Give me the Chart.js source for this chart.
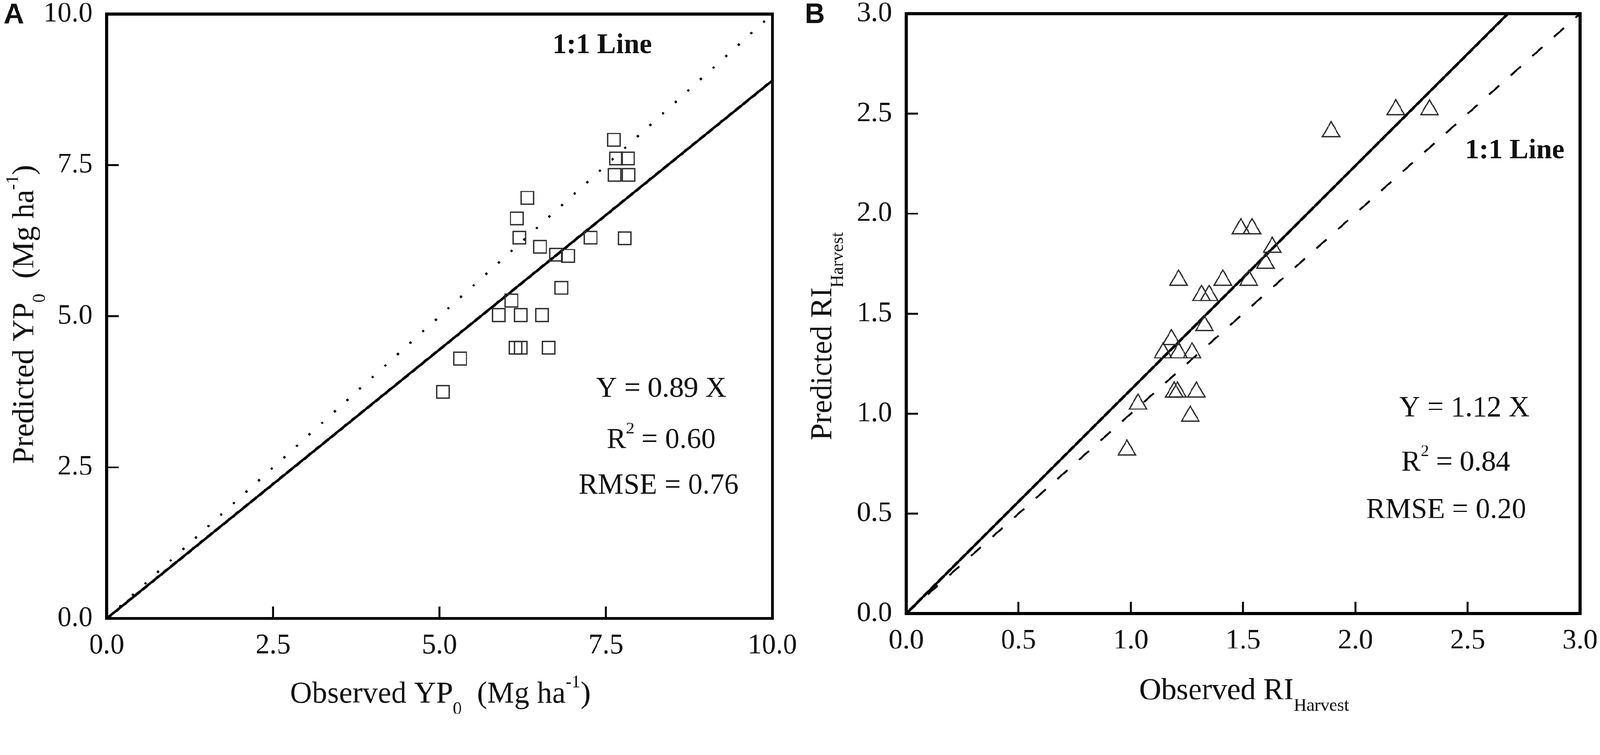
<!DOCTYPE html>
<html>
<head>
<meta charset="utf-8">
<script src="https://cdn.jsdelivr.net/npm/chart.js@4.4.1/dist/chart.umd.min.js"></script>
<style>
  html, body { margin: 0; padding: 0; background: #fff; overflow: hidden; }
  #wrap { position: relative; width: 4317px; height: 1932px; transform-origin: 0 0; }
  .panel { position: absolute; top: 0; height: 1932px; }
</style>
</head>
<body>
<div id="wrap">
  <div class="panel" style="left:0;width:2160px"><canvas id="chartA"></canvas></div>
  <div class="panel" style="left:2160px;width:2157px"><canvas id="chartB"></canvas></div>
</div>
<script>
// Panel A: observed vs predicted YP0 (Mg ha-1)
const obsYP = [7.62, 7.65, 7.83, 7.63, 7.84, 7.78, 6.32, 6.16, 6.20, 6.51, 6.75, 6.93,
               7.27, 6.83, 6.08, 5.89, 6.22, 6.54, 6.14, 6.22, 6.64, 5.31, 5.05];
const predYP = [7.92, 7.61, 7.61, 7.34, 7.34, 6.29, 6.96, 6.62, 6.30, 6.15, 6.02, 6.00,
                6.30, 5.47, 5.26, 5.02, 5.02, 5.02, 4.48, 4.48, 4.48, 4.30, 3.75];
const yieldTicks = [0, 2.5, 5, 7.5, 10];
const fitLineA = [[0, 0], [10, 8.9]];      // Y = 0.89 X
const oneToOneA = [[0, 0], [10, 10]];

// Panel B: observed vs predicted RI at harvest
const obsRI = [0.983, 1.032, 1.265, 1.193, 1.208, 1.292, 1.181, 1.144, 1.213, 1.273, 1.328, 1.315,
               1.349, 1.213, 1.41, 1.525, 1.60, 1.63, 1.49, 1.54, 1.892, 2.18, 2.33];
const predRI = [0.818, 1.048, 0.988, 1.108, 1.108, 1.108, 1.370, 1.304, 1.304, 1.304, 1.44, 1.591,
                1.591, 1.668, 1.668, 1.668, 1.752, 1.832, 1.925, 1.925, 2.41, 2.52, 2.52];
const riTicks = [0, 0.5, 1, 1.5, 2, 2.5, 3];
const fitLineB = [[0, 0], [2.679, 3]];     // Y = 1.12 X
const oneToOneB = [[0, 0], [3, 3]];

const SERIF = '"Liberation Serif", "Times New Roman", serif';
const SANS = '"Liberation Sans", Arial, sans-serif';

const toPoints = (xs, ys) => xs.map((v, i) => ({ x: v, y: ys[i] }));
const pairs = arr => arr.map(p => ({ x: p[0], y: p[1] }));

// fit the 4317x1932 layout into whatever viewport we get
function fitPage() {
  const s = Math.min(window.innerWidth / 4317, window.innerHeight / 1932);
  document.getElementById('wrap').style.transform = `scale(${s})`;
}

// draws a line of text with sub/superscript parts, optionally rotated
function drawRich(ctx, t) {
  const base = t.size;
  const fontFor = k => `${t.bold ? 'bold ' : ''}${k ? Math.round(base * 0.58) : base}px ${t.family || SERIF}`;
  ctx.save();
  ctx.translate(t.x, t.y);
  if (t.rotate) ctx.rotate(-Math.PI / 2);
  ctx.fillStyle = '#111';
  ctx.textBaseline = 'alphabetic';
  ctx.textAlign = 'left';
  let total = 0;
  const widths = t.parts.map(([s, k]) => {
    ctx.font = fontFor(k);
    const w = ctx.measureText(s).width;
    total += w;
    return w;
  });
  let cx = t.align === 'left' ? 0 : -total / 2;
  t.parts.forEach(([s, k], i) => {
    ctx.font = fontFor(k);
    const dy = k === 'sub' ? base * 0.38 : k === 'sup' ? -base * 0.5 : 0;
    ctx.fillText(s, cx, dy);
    cx += widths[i];
  });
  ctx.restore();
}

// frame, inward tick marks and the text of each panel
const panelDecor = {
  id: 'panelDecor',
  afterDatasetsDraw(chart, args, opts) {
    const { ctx, chartArea: a, scales: { x, y } } = chart;
    ctx.save();
    ctx.strokeStyle = '#000';
    ctx.lineWidth = 5;
    ctx.beginPath();
    x.ticks.forEach(t => {
      const px = x.getPixelForValue(t.value);
      ctx.moveTo(px, a.bottom);
      ctx.lineTo(px, a.bottom - 32);
    });
    y.ticks.forEach(t => {
      const py = y.getPixelForValue(t.value);
      ctx.moveTo(a.left, py);
      ctx.lineTo(a.left + 32, py);
    });
    ctx.stroke();
    ctx.lineWidth = 8;
    ctx.strokeRect(a.left, a.top, a.right - a.left, a.bottom - a.top);
    ctx.restore();
    opts.texts.forEach(t => drawRich(ctx, t));
  }
};

function axis(tickVals, isX, size, pad) {
  return {
    type: 'linear',
    min: tickVals[0],
    max: tickVals[tickVals.length - 1],
    afterBuildTicks: s => { s.ticks = tickVals.map(v => ({ value: v })); },
    ticks: {
      callback: v => Number(v).toFixed(1),
      font: { family: SERIF, size: 76 },
      color: '#111',
      padding: pad,
      maxRotation: 0,
      autoSkip: false
    },
    grid: { display: false, drawTicks: false },
    border: { display: false },
    afterFit: s => {
      if (isX) { s.height = size; s.paddingLeft = 0; s.paddingRight = 0; }
      else { s.width = size; s.paddingTop = 0; s.paddingBottom = 0; }
    }
  };
}

function makePanel(id, cfg) {
  return new Chart(document.getElementById(id), {
    type: 'scatter',
    data: {
      datasets: [
        {
          data: cfg.points,
          pointStyle: cfg.marker,
          pointRadius: cfg.radius,
          pointBorderWidth: 3.5,
          pointBorderColor: '#2e2e2e',
          pointBackgroundColor: 'rgba(0,0,0,0)'
        },
        {
          data: pairs(cfg.fit),
          showLine: true,
          pointRadius: 0,
          borderColor: '#000',
          borderWidth: 7
        },
        {
          data: pairs(cfg.oneToOne),
          showLine: true,
          pointRadius: 0,
          borderColor: '#000',
          borderWidth: cfg.dashWidth,
          borderDash: cfg.dash
        }
      ]
    },
    options: {
      responsive: false,
      devicePixelRatio: 1,
      animation: false,
      events: [],
      layout: { padding: cfg.padding },
      scales: {
        x: axis(cfg.ticks, true, cfg.xAxisH, 28),
        y: axis(cfg.ticks, false, cfg.yAxisW, 38)
      },
      plugins: {
        legend: { display: false },
        tooltip: { enabled: false },
        panelDecor: { texts: cfg.texts }
      }
    },
    plugins: [panelDecor]
  });
}

window.addEventListener('DOMContentLoaded', () => {
  fitPage();
  const cA = document.getElementById('chartA');
  cA.width = 2160; cA.height = 1932;
  const cB = document.getElementById('chartB');
  cB.width = 2157; cB.height = 1932;

  makePanel('chartA', {
    points: toPoints(obsYP, predYP),
    marker: 'rect',
    radius: 24,
    fit: fitLineA,
    oneToOne: oneToOneA,
    dash: [6, 40],
    dashWidth: 6,
    ticks: yieldTicks,
    padding: { top: 38, right: 76, left: 0, bottom: 0 },
    xAxisH: 264,
    yAxisW: 288,
    texts: [
      { x: 10, y: 63, size: 76, bold: true, family: SANS, align: 'left', parts: [['A', '']] },
      { x: 1625, y: 143, size: 76, bold: true, parts: [['1:1 Line', '']] },
      { x: 1784, y: 1070, size: 78, parts: [['Y = 0.89 X', '']] },
      { x: 1784, y: 1208, size: 78, parts: [['R', ''], ['2', 'sup'], [' = 0.60', '']] },
      { x: 1777, y: 1331, size: 78, parts: [['RMSE = 0.76', '']] },
      { x: 1188, y: 1895, size: 82, parts: [['Observed YP', ''], ['0', 'sub'], ['  (Mg ha', ''], ['-1', 'sup'], [')', '']] },
      { x: 90, y: 848, size: 82, rotate: true, parts: [['Predicted YP', ''], ['0', 'sub'], ['  (Mg ha', ''], ['-1', 'sup'], [')', '']] }
    ]
  });

  makePanel('chartB', {
    points: toPoints(obsRI, predRI),
    marker: 'triangle',
    radius: 27,
    fit: fitLineB,
    oneToOne: oneToOneB,
    dash: [36, 42],
    dashWidth: 5,
    ticks: riTicks,
    padding: { top: 37, right: 54, left: 0, bottom: 0 },
    xAxisH: 277,
    yAxisW: 285,
    texts: [
      { x: 11, y: 62, size: 76, bold: true, family: SANS, align: 'left', parts: [['B', '']] },
      { x: 1927, y: 427, size: 76, bold: true, parts: [['1:1 Line', '']] },
      { x: 1791, y: 1122, size: 78, parts: [['Y = 1.12 X', '']] },
      { x: 1768, y: 1269, size: 78, parts: [['R', ''], ['2', 'sup'], [' = 0.84', '']] },
      { x: 1742, y: 1397, size: 78, parts: [['RMSE = 0.20', '']] },
      { x: 1197, y: 1886, size: 82, parts: [['Observed RI', ''], ['Harvest', 'sub']] },
      { x: 83, y: 907, size: 82, rotate: true, parts: [['Predicted RI', ''], ['Harvest', 'sub']] }
    ]
  });
});
</script>
</body>
</html>
